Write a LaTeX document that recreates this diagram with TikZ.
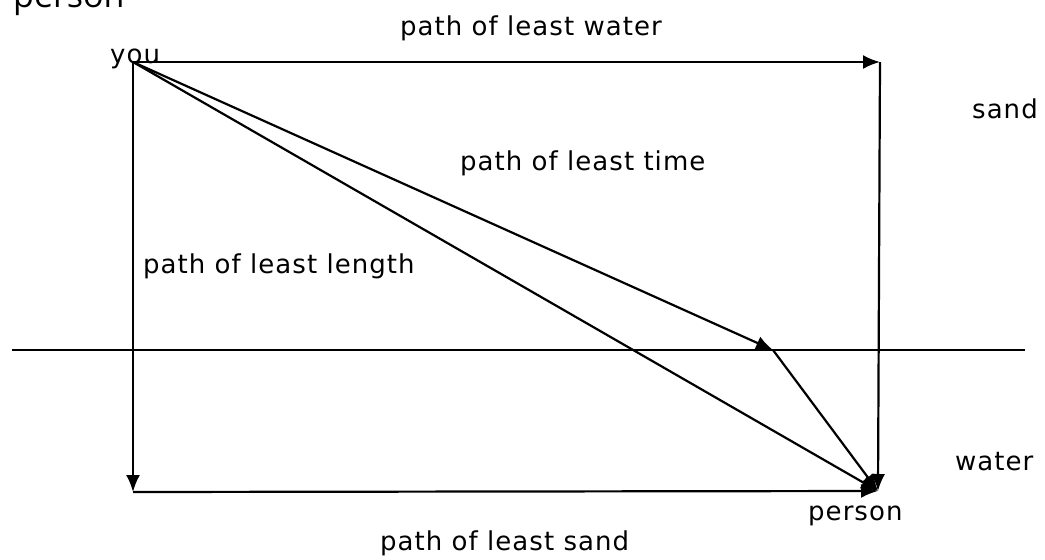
\documentclass[tikz,border=0pt]{standalone}
\usepackage{fontspec}
\setmainfont{DejaVu Sans}
\newfontfamily\lblfont[LetterSpace=4]{DejaVu Sans}
\newfontfamily\capfont{Open Sans}
\usetikzlibrary{arrows.meta}
\begin{document}
\begin{tikzpicture}[x=1pt,y=-1pt,
  lbl/.style={inner sep=0pt,anchor=base west,font=\lblfont\fontsize{26}{31}\selectfont},
  ln/.style={line width=2.2pt,draw=black},
  arr/.style={ln,-{Latex[length=17pt,width=14pt]}}]
\useasboundingbox (0,0) rectangle (1045,560);
\fill[white] (0,0) rectangle (1045,560);
% cut caption at the top
\node[inner sep=0pt,anchor=base west,font=\capfont\fontsize{34}{40}\selectfont] (cap) at (13,7) {person};
% points
\coordinate (Y) at (133,62);
\coordinate (TR) at (880,62);
\coordinate (BL) at (133,492);
\coordinate (P) at (878,491);
\coordinate (R) at (773,350);
\coordinate (W1) at (12,350);
\coordinate (W2) at (1025,350);
% water line
\draw[ln] (W1) -- (W2);
% path of least water
\draw[arr] (Y) -- (TR);
\draw[arr] (TR) -- (P);
% path of least sand
\draw[arr] (Y) -- (BL);
\draw[arr] (BL) -- (P);
% path of least time
\draw[arr] (Y) -- (R);
\draw[arr] (R) -- (P);
% path of least length
\draw[arr] (Y) -- (P);
% labels
\node[lbl] (you) at (110,63) {you};
\node[lbl] (lwater) at (400,35) {path of least water};
\node[lbl] (sand) at (972,118) {sand};
\node[lbl] (ltime) at (460,170) {path of least time};
\node[lbl] (llength) at (143,273) {path of least length};
\node[lbl] (water) at (955,470) {water};
\node[lbl] (person) at (808,520) {person};
\node[lbl] (lsand) at (380,550) {path of least sand};
\end{tikzpicture}
\end{document}
